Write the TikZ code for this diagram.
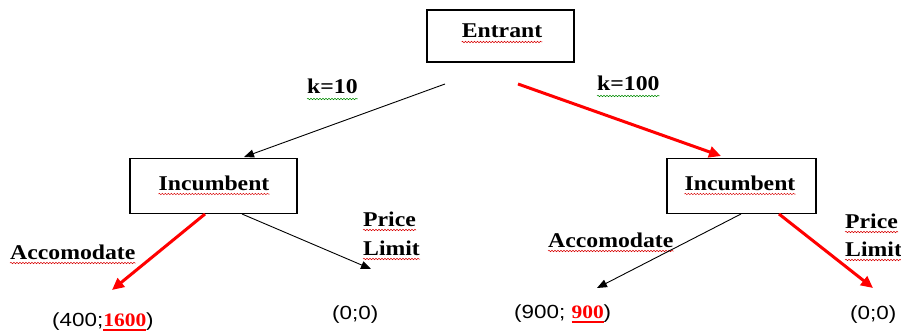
\documentclass[tikz,border=0pt]{standalone}
\usepackage{fontspec}
\setmainfont{Liberation Serif}[FakeStretch=1.13]
\newfontfamily\serfb{Liberation Serif}[FakeStretch=1.13]
\newfontfamily\numf{Liberation Sans}[FakeStretch=1.18]
\usetikzlibrary{arrows.meta,decorations.pathmorphing}
\newcommand\rul[1]{\textcolor{red}{\setbox0\hbox{\serfb\bfseries #1}\rlap{\rule[-4.5pt]{\wd0}{1.8pt}}\box0}}
\begin{document}
\begin{tikzpicture}[x=1pt,y=-1pt,
  box/.style={draw=black,line width=1.1pt,minimum width=#1,minimum height=55pt,inner sep=0pt},
  lbl/.style={inner sep=0pt,font=\fontsize{21}{24}\selectfont\serfb\bfseries},
  num/.style={inner sep=0pt,font=\fontsize{19}{22}\selectfont\numf},
  sqr/.style={decorate,decoration={snake,amplitude=0.7pt,segment length=3pt},line width=0.5pt,draw=red!85!black},
  sqg/.style={sqr,draw=green!55!black},
  blk/.style={draw=black,line width=0.9pt,-{Triangle[length=10pt,width=8pt]}},
  redarr/.style={draw=red,line width=3pt,-{Triangle[length=12pt,width=11pt]}}]
\useasboundingbox (0,0) rectangle (901,334);
% boxes
\node[box=147pt,minimum height=52pt] (ent) at (500.5,36) {};
\node[box=167pt] (inc1) at (213.5,186) {};
\node[box=149pt] (inc2) at (741.5,186) {};
% texts
\node[lbl,anchor=base] (entT) at (502,38) {Entrant};
\node[lbl,anchor=base] (inc1T) at (214,190) {Incumbent};
\node[lbl,anchor=base] (inc2T) at (740,190) {Incumbent};
\node[lbl,anchor=base west] (k10) at (307,94) {k=10};
\node[lbl,anchor=base west] (k100) at (597,91) {k=100};
\node[lbl,anchor=base west] (acc1) at (10,259) {Accomodate};
\node[lbl,anchor=base west] (acc2) at (548,247) {Accomodate};
\node[lbl,anchor=base west] (pr1) at (363,226) {Price};
\node[lbl,anchor=base west] (li1) at (363,255) {Limit};
\node[lbl,anchor=base west] (pr2) at (845,228) {Price};
\node[lbl,anchor=base west] (li2) at (845,256) {Limit};
% squiggles
\foreach \n in {entT,inc1T,inc2T,acc1,acc2,pr1,li1,pr2,li2}
  \draw[sqr] ([yshift=-4pt]\n.base west) -- ([yshift=-4pt]\n.base east);
\foreach \n in {k10,k100}
  \draw[sqg] ([yshift=-5pt]\n.base west) -- ([yshift=-5pt]\n.base east);
% payoffs
\node[num,anchor=base west] (p1) at (52,326) {(400;\rul{1600})};
\node[num,anchor=base west] (p2) at (332,319) {(0;0)};
\node[num,anchor=base west] (p3) at (514,318) {(900; \rul{900})};
\node[num,anchor=base west] (p4) at (850,319) {(0;0)};
% connector ends
\coordinate (a1s) at (445,84);  \coordinate (a1e) at (244,157);
\coordinate (a2s) at (518,84);  \coordinate (a2e) at (721,156);
\coordinate (b1s) at (205,214); \coordinate (b1e) at (112,290);
\coordinate (b2s) at (242,214); \coordinate (b2e) at (371,269);
\coordinate (c1s) at (741,214); \coordinate (c1e) at (597,288);
\coordinate (c2s) at (779,214); \coordinate (c2e) at (873,288);
\draw[blk] (a1s) -- (a1e);
\draw[redarr] (a2s) -- (a2e);
\draw[redarr] (b1s) -- (b1e);
\draw[blk] (b2s) -- (b2e);
\draw[blk] (c1s) -- (c1e);
\draw[redarr] (c2s) -- (c2e);
\end{tikzpicture}
\end{document}
